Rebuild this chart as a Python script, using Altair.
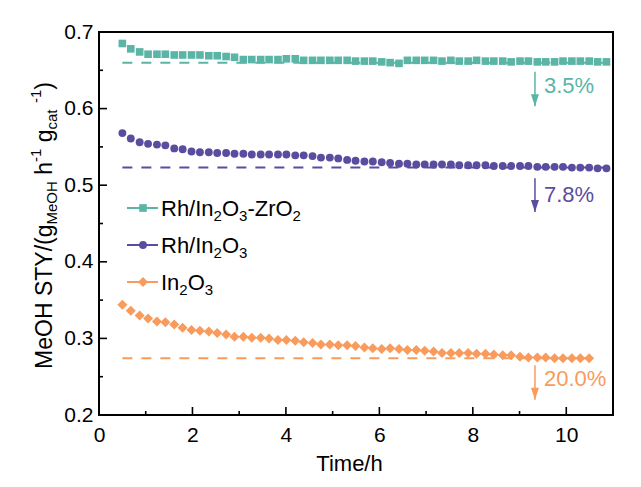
import altair as alt
import pandas as pd

# ---------------- layout (plot area in px) ----------------
W, H = 514, 383
X_MAX, Y_MIN, Y_MAX = 11, 0.2, 0.7
FONT = "Liberation Sans"

# ---------------- data ----------------
series_names = ["Rh/In2O3-ZrO2", "Rh/In2O3", "In2O3"]
series_colors = ["#5AB5A6", "#5A4C9F", "#F99B5C"]
series_shapes = ["square", "circle", "diamond"]
series_sizes = [58, 62, 100]

time_h = [0.50, 0.68, 0.87, 1.05, 1.24, 1.42, 1.61, 1.79, 1.98, 2.16,
          2.35, 2.53, 2.72, 2.90, 3.09, 3.27, 3.46, 3.64, 3.83, 4.01,
          4.20, 4.38, 4.57, 4.75, 4.94, 5.12, 5.31, 5.49, 5.68, 5.86,
          6.05, 6.23, 6.42, 6.60, 6.79, 6.97, 7.16, 7.34, 7.53, 7.71,
          7.90, 8.08, 8.27, 8.45, 8.64, 8.82, 9.01, 9.19, 9.38, 9.56,
          9.75, 9.93, 10.12, 10.30, 10.49, 10.67, 10.86]

sty_rh_in2o3_zro2 = [0.685, 0.678, 0.674, 0.671, 0.671, 0.671, 0.670, 0.670, 0.670, 0.670,
                     0.669, 0.669, 0.668, 0.667, 0.664, 0.664, 0.664, 0.664, 0.664, 0.665,
                     0.665, 0.663, 0.663, 0.663, 0.663, 0.663, 0.663, 0.662, 0.662, 0.662,
                     0.661, 0.660, 0.659, 0.663, 0.663, 0.663, 0.663, 0.662, 0.663, 0.662,
                     0.662, 0.663, 0.662, 0.662, 0.662, 0.661, 0.662, 0.662, 0.661, 0.661,
                     0.661, 0.662, 0.662, 0.662, 0.662, 0.661, 0.661]

sty_rh_in2o3 = [0.568, 0.561, 0.556, 0.554, 0.553, 0.552, 0.548, 0.547, 0.544, 0.543,
                0.543, 0.542, 0.542, 0.541, 0.541, 0.540, 0.540, 0.540, 0.540, 0.540,
                0.539, 0.539, 0.538, 0.536, 0.536, 0.535, 0.533, 0.532, 0.531, 0.531,
                0.530, 0.529, 0.528, 0.528, 0.527, 0.527, 0.527, 0.527, 0.527, 0.526,
                0.526, 0.526, 0.526, 0.525, 0.525, 0.525, 0.525, 0.525, 0.524, 0.524,
                0.524, 0.524, 0.523, 0.523, 0.523, 0.522, 0.522]

sty_in2o3 = [0.344, 0.336, 0.330, 0.326, 0.322, 0.321, 0.318, 0.314, 0.311, 0.310,
             0.309, 0.307, 0.305, 0.302, 0.302, 0.301, 0.301, 0.300, 0.298, 0.298,
             0.297, 0.295, 0.294, 0.292, 0.292, 0.291, 0.291, 0.290, 0.288, 0.287,
             0.286, 0.287, 0.286, 0.285, 0.285, 0.284, 0.283, 0.281, 0.281, 0.281,
             0.281, 0.280, 0.280, 0.279, 0.278, 0.278, 0.276, 0.275, 0.275, 0.275,
             0.274, 0.274, 0.274, 0.274, 0.274]

baseline_sty = [0.660, 0.523, 0.274]
drop_labels = ["3.5%", "7.8%", "20.0%"]
arrow_time = 9.33
arrow_top = [0.648, 0.509, 0.265]
arrow_tip = [0.603, 0.465, 0.220]
label_sty = [0.630, 0.487, 0.247]

x_major = [0, 2, 4, 6, 8, 10]
x_minor = [1, 3, 5, 7, 9]
y_major = [0.2, 0.3, 0.4, 0.5, 0.6, 0.7]
y_minor = [0.25, 0.35, 0.45, 0.55, 0.65]

legend_parts = [
    [("Rh/In", "n"), ("2", "sub"), ("O", "n"), ("3", "sub"), ("-ZrO", "n"), ("2", "sub")],
    [("Rh/In", "n"), ("2", "sub"), ("O", "n"), ("3", "sub")],
    [("In", "n"), ("2", "sub"), ("O", "n"), ("3", "sub")],
]
ytitle_parts = [("MeOH STY/(g", "n"), ("MeOH", "sub"), (" h", "n"), ("-1", "sup"),
                (" g", "n"), ("cat", "sub"), (" ", "n"), ("-1", "sup"), (")", "n")]

# ---------------- helpers ----------------
CW = {' ': 278, '(': 333, ')': 333, '-': 333, '/': 278, '%': 889, '.': 278,
      'M': 833, 'e': 556, 'O': 778, 'H': 722, 'S': 667, 'T': 611, 'Y': 667,
      'g': 556, 'h': 556, 'c': 500, 'a': 556, 't': 278, 'R': 722, 'I': 278,
      'n': 556, 'Z': 611, 'r': 333}


def tw(s, fs):
    return sum(CW.get(c, 556) for c in s) * fs / 1000.0


def px2t(px):
    return px * X_MAX / W


def py2v(py):
    return Y_MAX - py * (Y_MAX - Y_MIN) / H


xs = alt.Scale(domain=[0, X_MAX], nice=False, zero=False)
ys = alt.Scale(domain=[Y_MIN, Y_MAX], nice=False, zero=False)
X = alt.X("t:Q", scale=xs, axis=alt.Axis(values=x_major, ticks=False, domain=False, grid=False,
                                         labelFontSize=21, labelPadding=9, labelFlush=False,
                                         title="Time/h", titleFontSize=22, titlePadding=8,
                                         titleX=250, titleFontWeight="normal"))
Y = alt.Y("v:Q", scale=ys, axis=alt.Axis(values=y_major, ticks=False, domain=False, grid=False,
                                         labelFontSize=21, labelPadding=6, format=".1f",
                                         labelFlush=False, title=None))
cscale = alt.Scale(domain=series_names, range=series_colors)

layers = []

# dashed reference lines
dash_rows = []
ends = [time_h[len(sty_rh_in2o3_zro2) - 1], time_h[len(sty_rh_in2o3) - 1], time_h[len(sty_in2o3) - 1]]
for name, b, e in zip(series_names, baseline_sty, ends):
    dash_rows += [dict(series=name, t=time_h[0], v=b), dict(series=name, t=e, v=b)]
layers.append(alt.Chart(pd.DataFrame(dash_rows)).mark_line(strokeDash=[10, 9], strokeWidth=2).encode(
    x=X, y=Y, color=alt.Color("series:N", scale=cscale, legend=None), detail="series:N"))

# legend geometry (px in plot group)
leg_rows_py = [176, 213, 250]
leg_line = (28, 59)
leg_marker = 44
leg_text = 62

# series points (+ legend marker)
for i, vals in enumerate([sty_rh_in2o3_zro2, sty_rh_in2o3, sty_in2o3]):
    df = pd.DataFrame({"t": time_h[:len(vals)], "v": vals})
    df = pd.concat([df, pd.DataFrame([{"t": px2t(leg_marker), "v": py2v(leg_rows_py[i])}])])
    layers.append(alt.Chart(df).mark_point(shape=series_shapes[i], filled=True, opacity=1,
                                           size=series_sizes[i], color=series_colors[i]).encode(x=X, y=Y))

# legend lines
leg_df = pd.DataFrame({"series": series_names,
                       "t": [px2t(leg_line[0])] * 3, "t2": [px2t(leg_line[1])] * 3,
                       "v": [py2v(p) for p in leg_rows_py]})
layers.insert(0, alt.Chart(leg_df).mark_rule(strokeWidth=2).encode(
    x=X, x2="t2:Q", y=Y, color=alt.Color("series:N", scale=cscale, legend=None)))

# arrows and drop labels
arr_df = pd.DataFrame({"series": series_names, "t": [arrow_time] * 3, "v": arrow_top, "v2": arrow_tip})
layers.append(alt.Chart(arr_df).mark_rule(strokeWidth=1.5).encode(
    x=X, y=Y, y2="v2:Q", color=alt.Color("series:N", scale=cscale, legend=None)))
head_df = pd.DataFrame({"series": series_names, "t": [arrow_time] * 3, "v": arrow_tip})
layers.append(alt.Chart(head_df).mark_point(shape="M-1,-3L1,-3L0,0Z", filled=True, opacity=1, size=64).encode(
    x=X, y=Y, color=alt.Color("series:N", scale=cscale, legend=None)))
lab_df = pd.DataFrame({"series": series_names, "t": [arrow_time] * 3, "v": label_sty, "label": drop_labels})
layers.append(alt.Chart(lab_df).mark_text(align="left", baseline="middle", dx=9, fontSize=22, font=FONT).encode(
    x=X, y=Y, text="label:N", color=alt.Color("series:N", scale=cscale, legend=None)))

# inward ticks
layers.append(alt.Chart(pd.DataFrame({"t": x_major})).mark_rule(strokeWidth=1.6, color="black").encode(
    x=X, y=alt.value(H), y2=alt.value(H - 8)))
layers.append(alt.Chart(pd.DataFrame({"t": x_minor})).mark_rule(strokeWidth=1.6, color="black").encode(
    x=X, y=alt.value(H), y2=alt.value(H - 4)))
layers.append(alt.Chart(pd.DataFrame({"v": y_major})).mark_rule(strokeWidth=1.6, color="black").encode(
    y=Y, x=alt.value(0), x2=alt.value(8)))
layers.append(alt.Chart(pd.DataFrame({"v": y_minor})).mark_rule(strokeWidth=1.6, color="black").encode(
    y=Y, x=alt.value(0), x2=alt.value(4)))


def rich_rows(parts, main_fs, small_fs, start, step_sign, place):
    """Lay out text pieces one after another; leading spaces become advance only."""
    rows = []
    pos = start
    for txt, kind in parts:
        fs = main_fs if kind == "n" else small_fs
        lead = len(txt) - len(txt.lstrip(" "))
        pos += step_sign * tw(" " * lead, fs)
        body = txt.lstrip(" ")
        if body:
            rows.append(place(pos, kind, body, fs))
        pos += step_sign * tw(body, fs)
    return rows


# legend rich text
LM, LS = 22, 15
rows = []
for i, parts in enumerate(legend_parts):
    base = leg_rows_py[i] + 8
    rows += rich_rows(parts, LM, LS, leg_text, 1,
                      lambda p, k, b, fs, base=base: dict(t=px2t(p), v=py2v(base + (0 if k == "n" else 5)),
                                                          label=b, fs=fs))
layers.append(alt.Chart(pd.DataFrame(rows)).mark_text(align="left", baseline="alphabetic", font=FONT,
                                                      color="black").encode(
    x=X, y=Y, text="label:N", size=alt.Size("fs:Q", scale=None)))

# y-axis title (rotated rich text)
TM, TS = 23, 15
total = sum(tw(txt, TM if k == "n" else TS) for txt, k in ytitle_parts)
base_x = -47
shifts = {"n": 0, "sub": 5, "sup": -11}
rows = rich_rows(ytitle_parts, TM, TS, H / 2 + total / 2 + 2, -1,
                 lambda p, k, b, fs: dict(t=px2t(base_x + shifts[k]), v=py2v(p), label=b, fs=fs))
layers.append(alt.Chart(pd.DataFrame(rows)).mark_text(align="left", baseline="alphabetic", angle=270, font=FONT,
                                                      color="black").encode(
    x=X, y=Y, text="label:N", size=alt.Size("fs:Q", scale=None)))

chart = alt.layer(*layers).properties(
    width=W, height=H,
    autosize=alt.AutoSizeParams(type="none"),
    padding={"left": 91, "top": 24, "right": 20, "bottom": 70},
).configure_view(stroke="black", strokeWidth=2).configure_axis(
    labelFont=FONT, titleFont=FONT, labelColor="black", titleColor="black", titleFontWeight="normal"
)

chart.save("out.html", embed_options={"renderer": "svg", "actions": False})
